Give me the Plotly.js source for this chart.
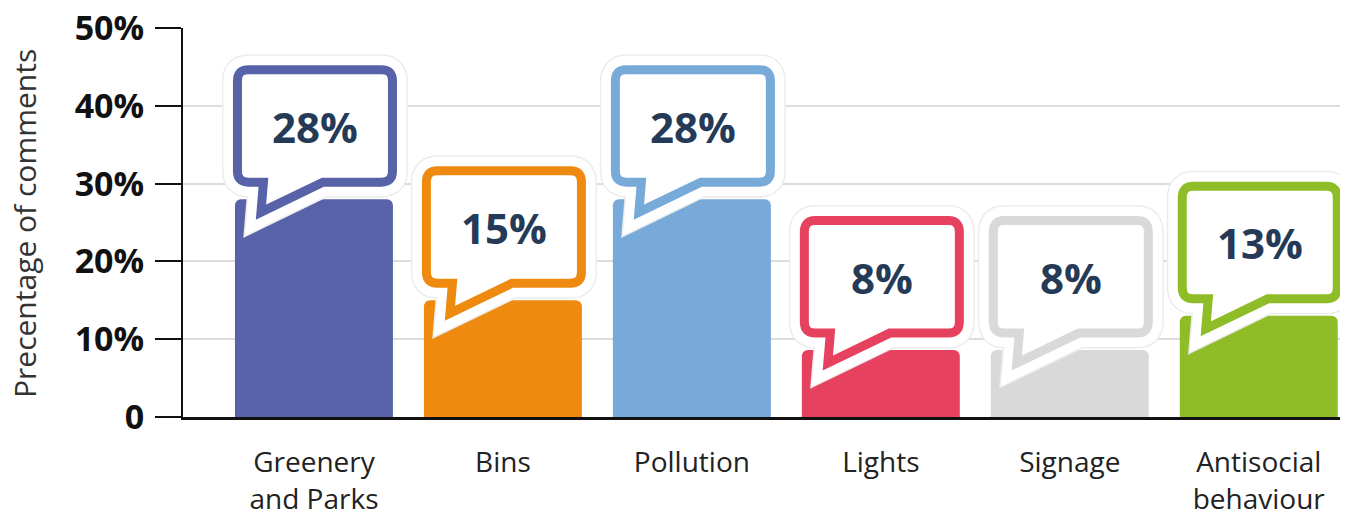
<!DOCTYPE html>
<html><head><meta charset="utf-8">
<script src="https://cdn.plot.ly/plotly-3.0.1.min.js"></script>
<style>html,body{margin:0;padding:0;background:#fff}</style>
</head><body><div id="chart" style="width:1349px;height:518px"></div>
<script>
const categories = ["Greenery<br>and Parks", "Bins", "Pollution", "Lights", "Signage", "Antisocial<br>behaviour"];
const values = [28, 15, 28, 8.6, 8.6, 13];
const valueLabels = ["28%", "15%", "28%", "8%", "8%", "13%"];
const colors = ["#5862a8", "#ef8a10", "#77aad9", "#e6425f", "#d9d9d9", "#8fbd27"];
const yTickVals = [0, 10, 20, 30, 40, 50];
const yTickText = ["0", "10%", "20%", "30%", "40%", "50%"];
const yTitle = "Precentage of comments";

const W = 1349, H = 518, M = {l: 183, r: 9, t: 28, b: 101};
const xRange = [-0.693, 5.43], yRange = [0, 50];
const pxX = (W - M.l - M.r) / (xRange[1] - xRange[0]);
const pxY = (H - M.t - M.b) / (yRange[1] - yRange[0]);
const barWidth = 0.836;
const xs = categories.map((_, i) => i);

function bubblePath(i, v) {
  const L = i - barWidth / 2;
  const X = dx => (L + dx / pxX).toFixed(5);
  const Y = up => (v + up / pxY).toFixed(5);
  const l = 2.5, rt = 157.5, top = 129.5, bot = 17, r = 11;
  return `M${X(l + r)},${Y(top)} L${X(rt - r)},${Y(top)} Q${X(rt)},${Y(top)} ${X(rt)},${Y(top - r)} ` +
    `L${X(rt)},${Y(bot + r)} Q${X(rt)},${Y(bot)} ${X(rt - r)},${Y(bot)} ` +
    `L${X(88)},${Y(bot)} L${X(26)},${Y(-13)} L${X(28.5)},${Y(bot)} ` +
    `L${X(l + r)},${Y(bot)} Q${X(l)},${Y(bot)} ${X(l)},${Y(bot + r)} ` +
    `L${X(l)},${Y(top - r)} Q${X(l)},${Y(top)} ${X(l + r)},${Y(top)} Z`;
}

const shapes = [];
const annotations = [];
values.forEach((v, i) => {
  const p = bubblePath(i, v);
  shapes.push({type: 'path', xref: 'x', yref: 'y', path: p, layer: 'above', fillcolor: '#ffffff', line: {color: '#ececec', width: 31}});
  shapes.push({type: 'path', xref: 'x', yref: 'y', path: p, layer: 'above', fillcolor: '#ffffff', line: {color: '#ffffff', width: 28}});
  shapes.push({type: 'path', xref: 'x', yref: 'y', path: p, layer: 'above', fillcolor: '#ffffff', line: {color: colors[i], width: 9}});
  annotations.push({
    x: i + 1 / pxX, y: v + 73 / pxY, xref: 'x', yref: 'y', text: valueLabels[i], showarrow: false,
    xanchor: 'center', yanchor: 'middle',
    font: {family: 'Open Sans', size: 42, weight: 700, color: '#253a56'}
  });
});
annotations.push({
  xref: 'paper', yref: 'paper', x: (24 - M.l) / (W - M.l - M.r), y: (417 - 224) / (H - M.t - M.b),
  text: yTitle, textangle: -90, showarrow: false, xanchor: 'center', yanchor: 'middle',
  font: {family: 'Open Sans', size: 30, color: '#333333'}
});

const trace = {
  type: 'bar', x: xs, y: values, width: barWidth,
  marker: {color: colors, cornerradius: 6, line: {width: 0}},
  hoverinfo: 'skip', textposition: 'none'
};

const layout = {
  width: W, height: H, margin: M, showlegend: false,
  paper_bgcolor: '#ffffff', plot_bgcolor: '#ffffff',
  xaxis: {
    range: xRange, tickvals: xs, ticktext: categories, showgrid: false, zeroline: false,
    showline: true, linecolor: '#111111', linewidth: 2.5, ticks: '',
    tickfont: {family: 'Open Sans', size: 28, color: '#222222'}, ticklabelstandoff: 19, fixedrange: true
  },
  yaxis: {
    range: yRange, tickvals: yTickVals, ticktext: yTickText, showgrid: true, gridcolor: '#dcdcdc', gridwidth: 2,
    zeroline: false, showline: true, linecolor: '#111111', linewidth: 2,
    ticks: 'outside', ticklen: 26, tickwidth: 2, tickcolor: '#111111',
    tickfont: {family: 'Open Sans', size: 34, weight: 700, color: '#111111'}, ticklabelstandoff: 4, fixedrange: true
  },
  shapes: shapes, annotations: annotations
};

Plotly.newPlot('chart', [trace], layout, {staticPlot: true, displayModeBar: false});
</script></body></html>
